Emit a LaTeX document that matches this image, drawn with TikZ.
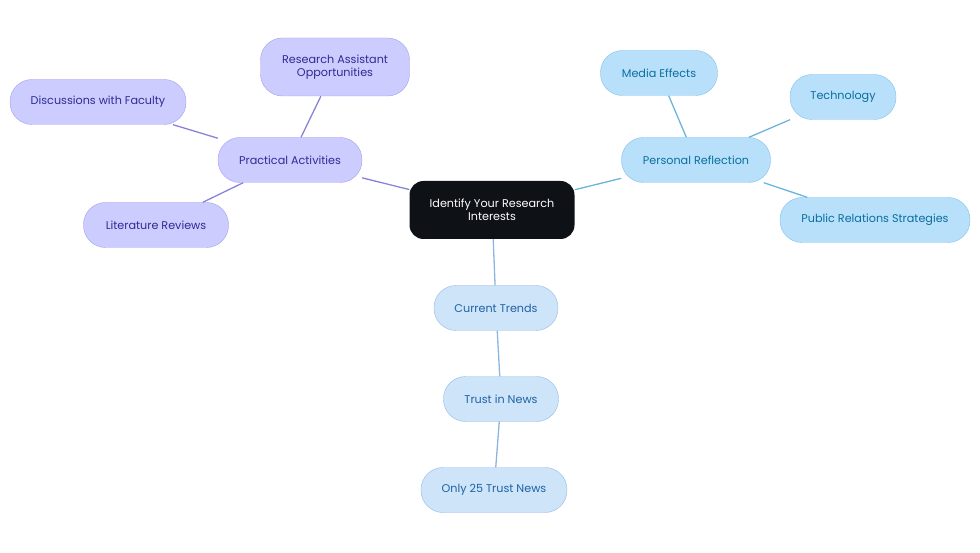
\documentclass[tikz,border=0pt]{standalone}
\usepackage{fontspec}
\setmainfont{Poppins}
\usepackage{tikz}
\usetikzlibrary{positioning}
\definecolor{CoreDark}{HTML}{0E1217}
\definecolor{LilacFill}{HTML}{CCCCFF}
\definecolor{LilacEdge}{HTML}{A3A0EC}
\definecolor{LilacText}{HTML}{2E2B94}
\definecolor{LilacLine}{HTML}{8983D8}
\definecolor{SkyFill}{HTML}{B8E0FB}
\definecolor{SkyEdge}{HTML}{82C0EA}
\definecolor{SkyText}{HTML}{0A6E9E}
\definecolor{SkyLine}{HTML}{6DB4DD}
\definecolor{PaleFill}{HTML}{CDE4F9}
\definecolor{PaleEdge}{HTML}{93BAE6}
\definecolor{PaleText}{HTML}{1E62A6}
\definecolor{PaleLine}{HTML}{8EB5E1}
\begin{document}
\begin{tikzpicture}[x=1pt,y=-1pt,font=\fontsize{11.2}{12.5}\selectfont,
core/.style={fill=CoreDark,text=white,rounded corners=14pt,minimum width=165pt,minimum height=58pt,align=center},
lilac/.style={draw=LilacEdge,fill=LilacFill,text=LilacText,rounded corners=22pt,minimum height=45pt,align=center},
sky/.style={draw=SkyEdge,fill=SkyFill,text=SkyText,rounded corners=22pt,minimum height=45pt,align=center},
pale/.style={draw=PaleEdge,fill=PaleFill,text=PaleText,rounded corners=22pt,minimum height=45pt,align=center},
arr/.style={line width=1.3pt}]
\useasboundingbox (0,0) rectangle (980,553);
\node[core] (interests) at (492,210) {Identify Your Research\\Interests};
% left branch
\node[lilac,minimum width=144pt] (practical) at (290,160) {Practical Activities};
\node[lilac,minimum width=149pt,minimum height=58pt] (assistant) at (335,67) {Research Assistant\\Opportunities};
\node[lilac,minimum width=176pt] (faculty) at (98,102) {Discussions with Faculty};
\node[lilac,minimum width=145pt] (literature) at (156,225) {Literature Reviews};
% right branch
\node[sky,minimum width=149pt] (reflection) at (696,160) {Personal Reflection};
\node[sky,minimum width=117pt] (media) at (659,73) {Media Effects};
\node[sky,minimum width=106pt] (technology) at (843,97) {Technology};
\node[sky,minimum width=190pt] (relations) at (875,220) {Public Relations Strategies};
% lower branch
\node[pale,minimum width=124pt] (trends) at (496,308) {Current Trends};
\node[pale,minimum width=115pt] (trust) at (501,399) {Trust in News};
\node[pale,minimum width=146pt] (only) at (494,490) {Only 25 Trust News};
\draw[arr,LilacLine] (interests)--(practical);
\draw[arr,LilacLine] (practical)--(assistant);
\draw[arr,LilacLine] (practical)--(faculty);
\draw[arr,LilacLine] (practical)--(literature);
\draw[arr,SkyLine] (interests)--(reflection);
\draw[arr,SkyLine] (reflection)--(media);
\draw[arr,SkyLine] (reflection)--(technology);
\draw[arr,SkyLine] (reflection)--(relations);
\draw[arr,PaleLine] (interests)--(trends);
\draw[arr,PaleLine] (trends)--(trust);
\draw[arr,PaleLine] (trust)--(only);
\end{tikzpicture}
\end{document}
